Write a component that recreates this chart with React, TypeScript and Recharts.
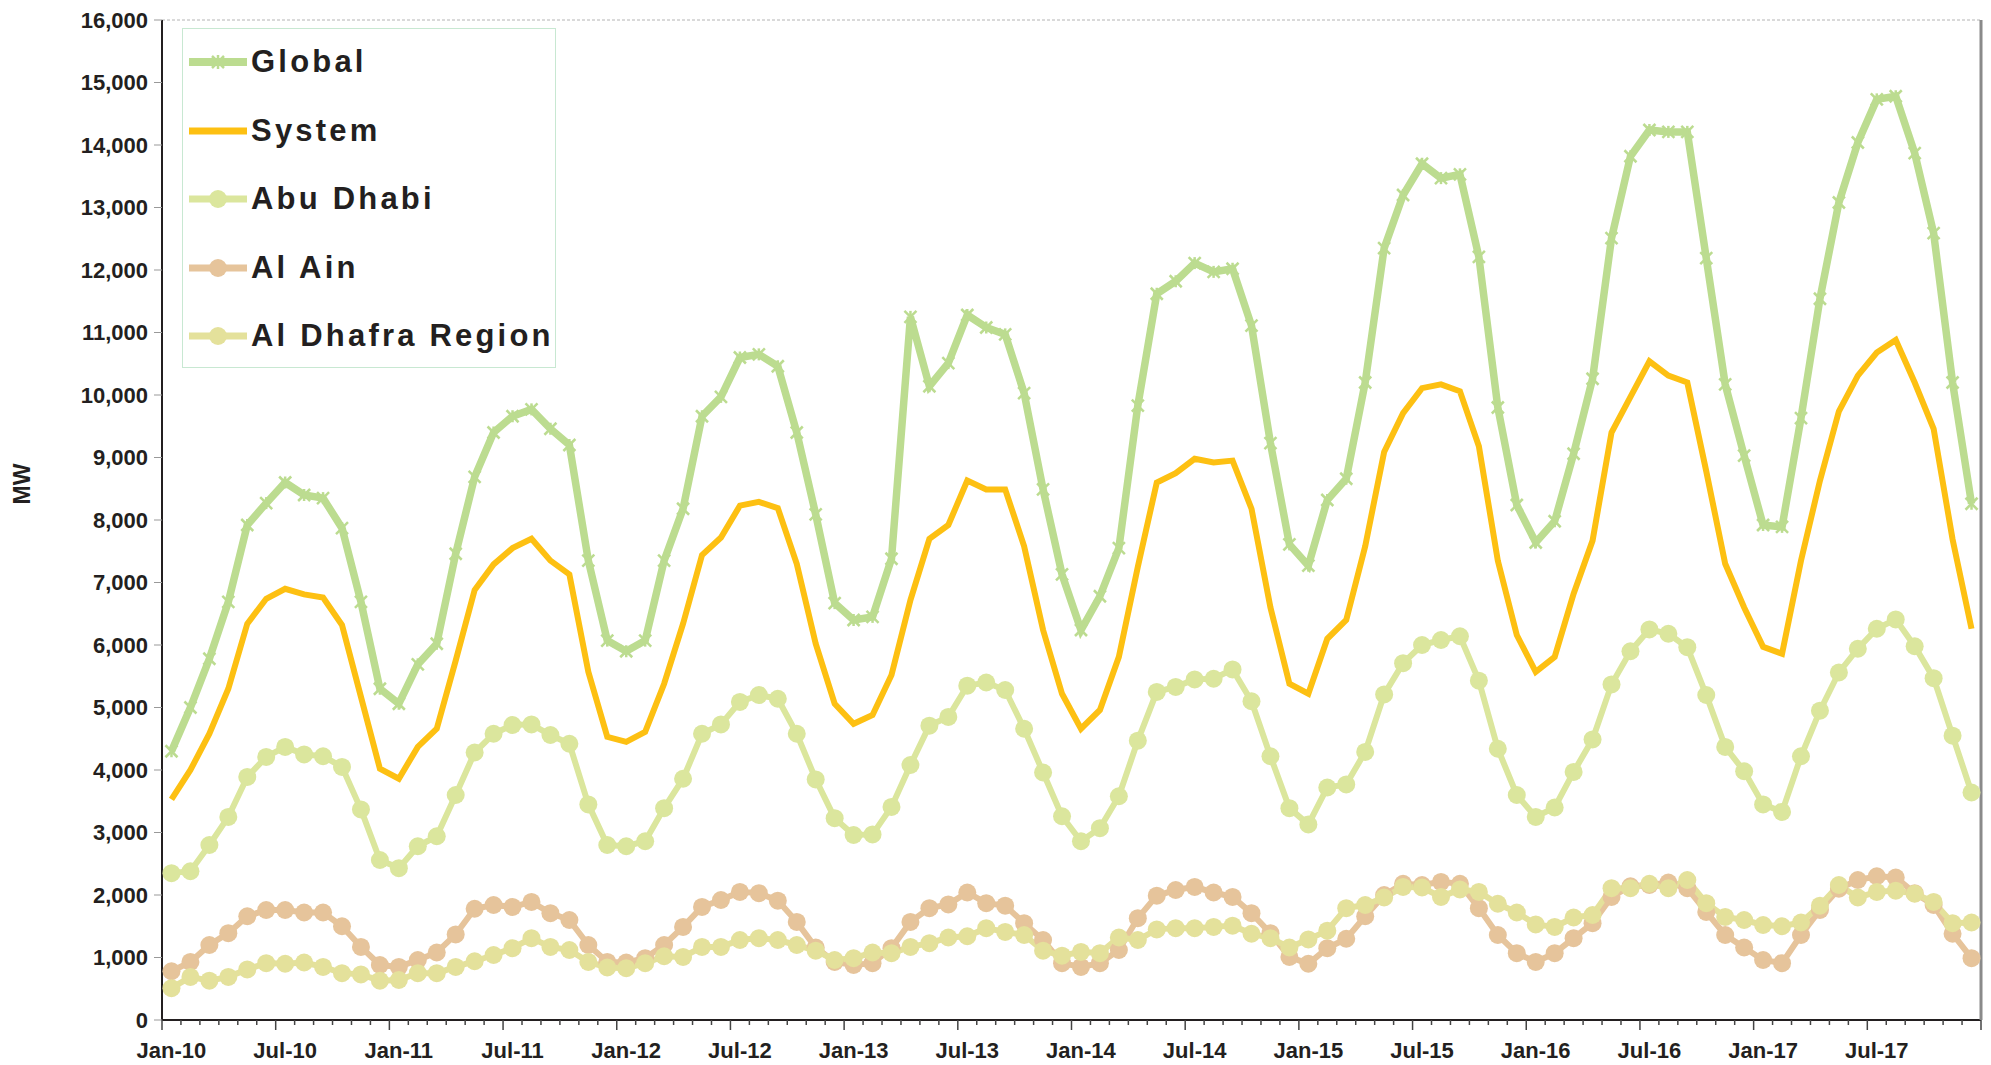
import { LineChart, Line, XAxis, YAxis, CartesianGrid, Legend } from 'recharts';

const years = ['10', '11', '12', '13', '14', '15', '16', '17'];
const monthNames = ['Jan', 'Feb', 'Mar', 'Apr', 'May', 'Jun', 'Jul', 'Aug', 'Sep', 'Oct', 'Nov', 'Dec'];
const months = years.flatMap(y => monthNames.map(m => `${m}-${y}`));

const globalMW = [
  4300, 5000, 5780, 6690, 7920, 8270, 8600, 8400, 8350, 7870, 6690, 5300,
  5060, 5690, 6020, 7460, 8690, 9400, 9660, 9770, 9460, 9200, 7350, 6070,
  5900, 6070, 7350, 8180, 9660, 9970, 10600, 10650, 10460, 9400, 8090, 6670,
  6400, 6450, 7380, 11250, 10140, 10510, 11280, 11080, 10970, 10030, 8490, 7130,
  6240, 6780, 7550, 9830, 11620, 11820, 12110, 11970, 12020, 11110, 9230, 7610,
  7270, 8320, 8660, 10200, 12350, 13200, 13700, 13470, 13530, 12210, 9800, 8240,
  7640, 7980, 9060, 10260, 12510, 13820, 14240, 14210, 14210, 12190, 10170, 9030,
  7920, 7890, 9630, 11540, 13080, 14040, 14730, 14780, 13870, 12590, 10200, 8260,
];

const systemMW = [
  3530, 4000, 4580, 5300, 6340, 6740, 6900, 6810, 6760, 6320, 5170, 4020,
  3860, 4370, 4660, 5750, 6880, 7290, 7550, 7700, 7350, 7130, 5570, 4530,
  4450, 4610, 5380, 6340, 7440, 7720, 8230, 8290, 8190, 7300, 6020, 5060,
  4740, 4880, 5520, 6720, 7700, 7920, 8630, 8490, 8490, 7580, 6240, 5220,
  4660, 4960, 5810, 7250, 8600, 8750, 8980, 8920, 8950, 8180, 6600, 5380,
  5220, 6100, 6400, 7580, 9090, 9710, 10110, 10170, 10060, 9180, 7350, 6160,
  5570, 5810, 6820, 7670, 9400, 9970, 10540, 10310, 10200, 8780, 7300, 6600,
  5970, 5860, 7350, 8630, 9740, 10310, 10680, 10880, 10200, 9460, 7690, 6260,
];

const abuDhabiMW = [
  2350, 2380, 2800, 3250, 3890, 4210, 4370, 4250, 4220, 4050, 3370, 2560,
  2430, 2780, 2940, 3600, 4280, 4580, 4720, 4730, 4560, 4420, 3450, 2800,
  2780, 2860, 3390, 3860, 4580, 4730, 5090, 5200, 5140, 4580, 3850, 3230,
  2960, 2970, 3410, 4080, 4710, 4850, 5350, 5400, 5280, 4660, 3960, 3260,
  2860, 3070, 3580, 4470, 5250, 5330, 5450, 5460, 5610, 5100, 4220, 3390,
  3130, 3720, 3770, 4290, 5210, 5710, 6000, 6080, 6140, 5430, 4340, 3600,
  3250, 3400, 3970, 4490, 5370, 5900, 6250, 6180, 5965, 5200, 4370, 3980,
  3450, 3330, 4220, 4950, 5560, 5940, 6260, 6410, 5980, 5470, 4550, 3640,
];

const alAinMW = [
  780, 930, 1200, 1390, 1660, 1760, 1760, 1720, 1720, 1500, 1170, 880,
  850, 960, 1080, 1370, 1780, 1840, 1810, 1890, 1710, 1600, 1200, 930,
  920, 990, 1200, 1490, 1810, 1920, 2050, 2030, 1910, 1570, 1160, 930,
  880, 910, 1150, 1570, 1790, 1850, 2040, 1870, 1830, 1550, 1280, 910,
  850, 910, 1120, 1630, 1990, 2080, 2130, 2040, 1970, 1710, 1390, 1010,
  900, 1150, 1300, 1660, 2000, 2180, 2160, 2210, 2180, 1790, 1360, 1070,
  930, 1070, 1310, 1550, 1970, 2140, 2160, 2200, 2110, 1730, 1360, 1160,
  960, 910, 1360, 1760, 2100, 2240, 2300, 2280, 2030, 1840, 1380, 990,
];

const alDhafraMW = [
  510, 690, 630, 690, 810, 910, 900, 920, 850, 750, 730, 630,
  640, 750, 750, 850, 940, 1040, 1150, 1310, 1170, 1120, 930, 840,
  830, 910, 1020, 1010, 1170, 1170, 1280, 1310, 1280, 1200, 1110, 960,
  990, 1080, 1070, 1170, 1230, 1320, 1340, 1470, 1410, 1360, 1110, 1030,
  1090, 1070, 1320, 1280, 1450, 1470, 1470, 1490, 1510, 1380, 1310, 1160,
  1290, 1430, 1790, 1840, 1960, 2130, 2120, 1970, 2090, 2050, 1860, 1720,
  1530, 1490, 1640, 1680, 2110, 2110, 2180, 2110, 2240, 1870, 1650, 1600,
  1520, 1500, 1560, 1830, 2160, 1960, 2050, 2070, 2020, 1890, 1550, 1560,
];

const yTicks = [0, 1000, 2000, 3000, 4000, 5000, 6000, 7000, 8000, 9000, 10000, 11000, 12000, 13000, 14000, 15000, 16000];

const FONT = '"Liberation Sans", Arial, sans-serif';
const PLOT_W = 1819;
const STEP = PLOT_W / months.length;

const series = [
  { key: 'global', name: 'Global', color: '#bcdc90', width: 7, marker: 'star' },
  { key: 'system', name: 'System', color: '#fdc012', width: 6, marker: 'none' },
  { key: 'abuDhabi', name: 'Abu Dhabi', color: '#dbe69d', width: 6, marker: 'circle' },
  { key: 'alAin', name: 'Al Ain', color: '#e6c49b', width: 6, marker: 'circle' },
  { key: 'alDhafra', name: 'Al Dhafra Region', color: '#e4e19b', width: 6, marker: 'circle' },
];

const data = months.map((m, i) => ({
  month: m,
  global: globalMW[i],
  system: systemMW[i],
  abuDhabi: abuDhabiMW[i],
  alAin: alAinMW[i],
  alDhafra: alDhafraMW[i],
}));

const StarDot = (props: any) => {
  const { cx, cy, index } = props;
  if (cx == null || cy == null) return <g key={`s-${index}`} />;
  const s = 6;
  return (
    <g key={`s-${index}`} stroke="#bcdc90" strokeWidth={2.5}>
      <line x1={cx - s} y1={cy - s} x2={cx + s} y2={cy + s} />
      <line x1={cx - s} y1={cy + s} x2={cx + s} y2={cy - s} />
      <line x1={cx} y1={cy - s} x2={cx} y2={cy + s} />
    </g>
  );
};

const MonthTick = (props: any) => {
  const { x, y, index, payload } = props;
  const left = x - STEP / 2;
  const major = index % 6 === 0;
  return (
    <g>
      <line x1={left} x2={left} y1={y} y2={y + (major ? 10 : 5)} stroke="#444" strokeWidth={1.5} />
      {index === months.length - 1 && (
        <line x1={x + STEP / 2} x2={x + STEP / 2} y1={y} y2={y + 10} stroke="#444" strokeWidth={1.5} />
      )}
      {major && (
        <text x={x} y={y + 38} textAnchor="middle" fontSize={22} fontWeight="bold" fill="#231f20" fontFamily={FONT}>
          {payload.value}
        </text>
      )}
    </g>
  );
};

const renderLegend = () => (
  <div style={{ width: 372, height: 338, border: '1.5px solid #c8e8d2', background: '#fff', position: 'relative' }}>
    {series.map((s, i) => (
      <div key={s.key} style={{ position: 'absolute', left: 0, top: 33 + i * 68.5 - 20, height: 40, display: 'flex', alignItems: 'center' }}>
        <svg width={66} height={40}>
          <line x1={6} x2={64} y1={20} y2={20} stroke={s.color} strokeWidth={s.width + 1} />
          {s.marker === 'circle' && <circle cx={35} cy={20} r={9} fill={s.color} />}
          {s.marker === 'star' && (
            <g stroke={s.color} strokeWidth={2.5}>
              <line x1={29} y1={14} x2={41} y2={26} />
              <line x1={29} y1={26} x2={41} y2={14} />
              <line x1={35} y1={13} x2={35} y2={27} />
            </g>
          )}
        </svg>
        <span style={{ fontFamily: FONT, fontWeight: 'bold', fontSize: 31, letterSpacing: 3.2, color: '#231f20', marginLeft: 2 }}>
          {s.name}
        </span>
      </div>
    ))}
  </div>
);

export default function App() {
  return (
    <div style={{ position: 'absolute', left: 0, top: 0, width: 1991, height: 1065, background: '#fff' }}>
      <LineChart width={1991} height={1065} data={data} margin={{ top: 20, right: 9, left: 0, bottom: 0 }}>
        <CartesianGrid horizontal vertical={false} stroke="#b4b4b4" strokeDasharray="3 2" />
        <XAxis
          dataKey="month"
          interval={0}
          height={45}
          tickLine={false}
          tickSize={0}
          tickMargin={0}
          padding={{ left: STEP / 2, right: STEP / 2 }}
          axisLine={{ stroke: '#231f20', strokeWidth: 2 }}
          tick={<MonthTick />}
        />
        <YAxis
          yAxisId="left"
          width={162}
          domain={[0, 16000]}
          ticks={yTicks}
          interval={0}
          tickFormatter={(v: number) => v.toLocaleString('en-US')}
          tickSize={8}
          tickMargin={6}
          tickLine={{ stroke: '#999' }}
          axisLine={{ stroke: '#231f20', strokeWidth: 2 }}
          tick={{ fontSize: 22, fontWeight: 'bold', fill: '#231f20', fontFamily: FONT }}
          label={{
            content: () => (
              <text x={22} y={484} transform="rotate(-90 22 484)" textAnchor="middle" dominantBaseline="central"
                fontSize={23} fontWeight="bold" fill="#231f20" fontFamily={FONT}>
                MW
              </text>
            ),
          }}
        />
        <YAxis
          yAxisId="right"
          orientation="right"
          width={1}
          domain={[0, 16000]}
          tick={false}
          tickLine={false}
          axisLine={{ stroke: '#8a8a8a', strokeWidth: 3 }}
        />
        <Legend
          layout="vertical"
          align="center"
          verticalAlign="middle"
          content={renderLegend}
          wrapperStyle={{ left: 182, top: 28, width: 374, height: 340 }}
        />
        <Line yAxisId="left" type="linear" dataKey="global" name="Global" stroke="#bcdc90" strokeWidth={7.5}
          dot={StarDot} activeDot={false} isAnimationActive={false} />
        <Line yAxisId="left" type="linear" dataKey="system" name="System" stroke="#fdc012" strokeWidth={6}
          dot={false} activeDot={false} isAnimationActive={false} />
        <Line yAxisId="left" type="linear" dataKey="abuDhabi" name="Abu Dhabi" stroke="#dbe69d" strokeWidth={6}
          dot={{ r: 9, fill: '#dbe69d', stroke: '#dbe69d', strokeWidth: 0 }} activeDot={false} isAnimationActive={false} />
        <Line yAxisId="left" type="linear" dataKey="alAin" name="Al Ain" stroke="#e6c49b" strokeWidth={6}
          dot={{ r: 9, fill: '#e6c49b', stroke: '#e6c49b', strokeWidth: 0 }} activeDot={false} isAnimationActive={false} />
        <Line yAxisId="left" type="linear" dataKey="alDhafra" name="Al Dhafra Region" stroke="#e4e19b" strokeWidth={6}
          dot={{ r: 9, fill: '#e4e19b', stroke: '#e4e19b', strokeWidth: 0 }} activeDot={false} isAnimationActive={false} />
      </LineChart>
    </div>
  );
}
